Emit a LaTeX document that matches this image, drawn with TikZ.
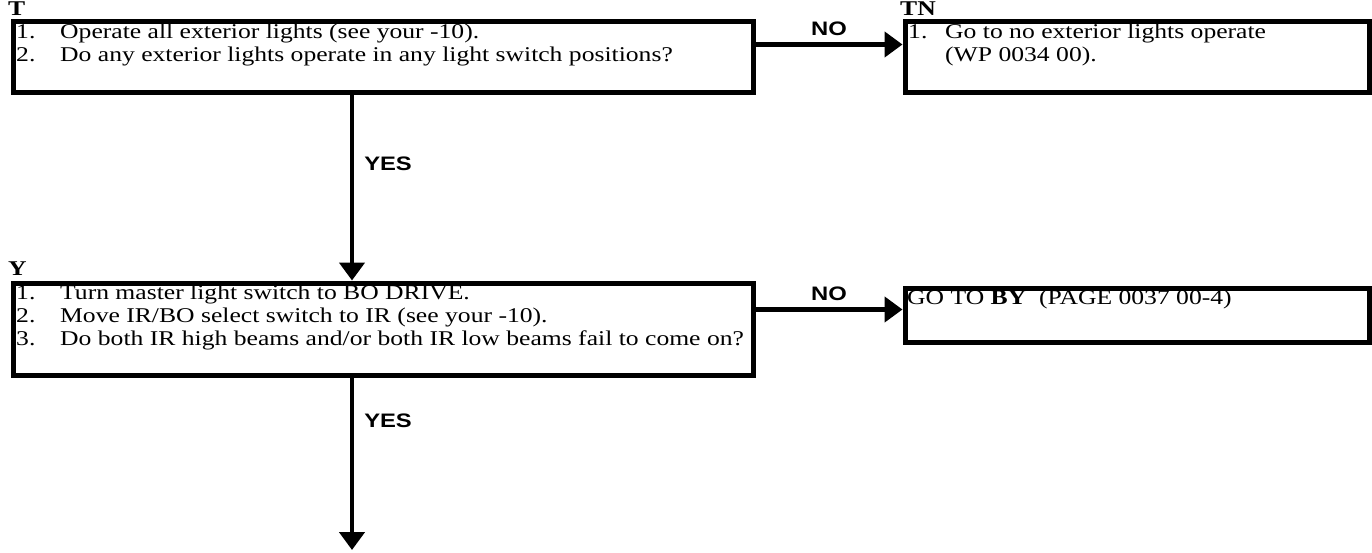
\documentclass[tikz,border=0pt]{standalone}
\usepackage{fontspec}
\setmainfont{Liberation Serif}[FakeStretch=1.22]
\setsansfont{Liberation Sans}[FakeStretch=1.22]
\usetikzlibrary{arrows.meta,calc}
\begin{document}
\begin{tikzpicture}[x=1pt,y=-1pt,
  box/.style={draw,line width=5pt,rectangle,anchor=north west,inner sep=0pt},
  arr/.style={line width=4.5pt,-{Triangle[length=18pt,width=25pt]}},
  lbl/.style={font=\fontsize{21}{23}\selectfont\bfseries,anchor=base west,inner sep=0pt},
  txt/.style={font=\fontsize{21}{23}\selectfont,anchor=base west,inner sep=0pt},
  ans/.style={font=\fontsize{19.5}{22}\selectfont\sffamily\bfseries,inner sep=0pt}]
\useasboundingbox (0,0) rectangle (1372,553);
% top row
\node[lbl] (Tl) at (8,15.5) {T};
\node[box,minimum width=740pt,minimum height=70.5pt] (T) at (10.5,19.5) {};
\node[txt] (T1n) at (16,38.5) {1.};
\node[txt] (T1) at (60,38.5) {Operate all exterior lights (see your -10).};
\node[txt] (T2n) at (16,61.5) {2.};
\node[txt] (T2) at (60,61.5) {Do any exterior lights operate in any light switch positions?};
\node[lbl] (TNl) at (900,15.5) {TN};
\node[box,minimum width=464pt,minimum height=70.5pt] (TN) at (902.5,19.5) {};
\node[txt] (TN1n) at (908,38.5) {1.};
\node[txt] (TN1) at (945,38.5) {Go to no exterior lights operate};
\node[txt] (TN2) at (945,61.5) {(WP 0034 00).};
\coordinate (tnin) at ($(TN.north west)+(0,25)$);
\draw[arr] (T.east |- tnin) -- (tnin)
  node[ans,midway,above=7pt] (no1) {NO};
% second row
\node[lbl] (Yl) at (8,275) {Y};
\node[box,minimum width=740pt,minimum height=92.5pt] (Y) at (10.5,280.5) {};
\node[txt] (Y1n) at (16,299.5) {1.};
\node[txt] (Y1) at (60,299.5) {Turn master light switch to BO DRIVE.};
\node[txt] (Y2n) at (16,322.5) {2.};
\node[txt] (Y2) at (60,322.5) {Move IR/BO select switch to IR (see your -10).};
\node[txt] (Y3n) at (16,345.5) {3.};
\node[txt] (Y3) at (60,345.5) {Do both IR high beams and/or both IR low beams fail to come on?};
\node[box,minimum width=464pt,minimum height=54.5pt] (BY) at (902.5,285.5) {};
\node[txt] (BY1) at (907,304.5) {GO TO \textbf{BY}\ \ (PAGE 0037 00-4)};
\coordinate (byin) at ($(BY.north west)+(0,24)$);
\draw[arr] (Y.east |- byin) -- (byin)
  node[ans,midway,above=7pt] (no2) {NO};
% vertical
\draw[arr] (T.south -| 352,0) -- (Y.north -| 352,0)
  node[ans,pos=0.37,right=10pt] (yes1) {YES};
\coordinate (end) at (352,550);
\draw[arr] (Y.south -| 352,0) -- (end)
  node[ans,pos=0.25,right=10pt] (yes2) {YES};
\end{tikzpicture}
\end{document}
